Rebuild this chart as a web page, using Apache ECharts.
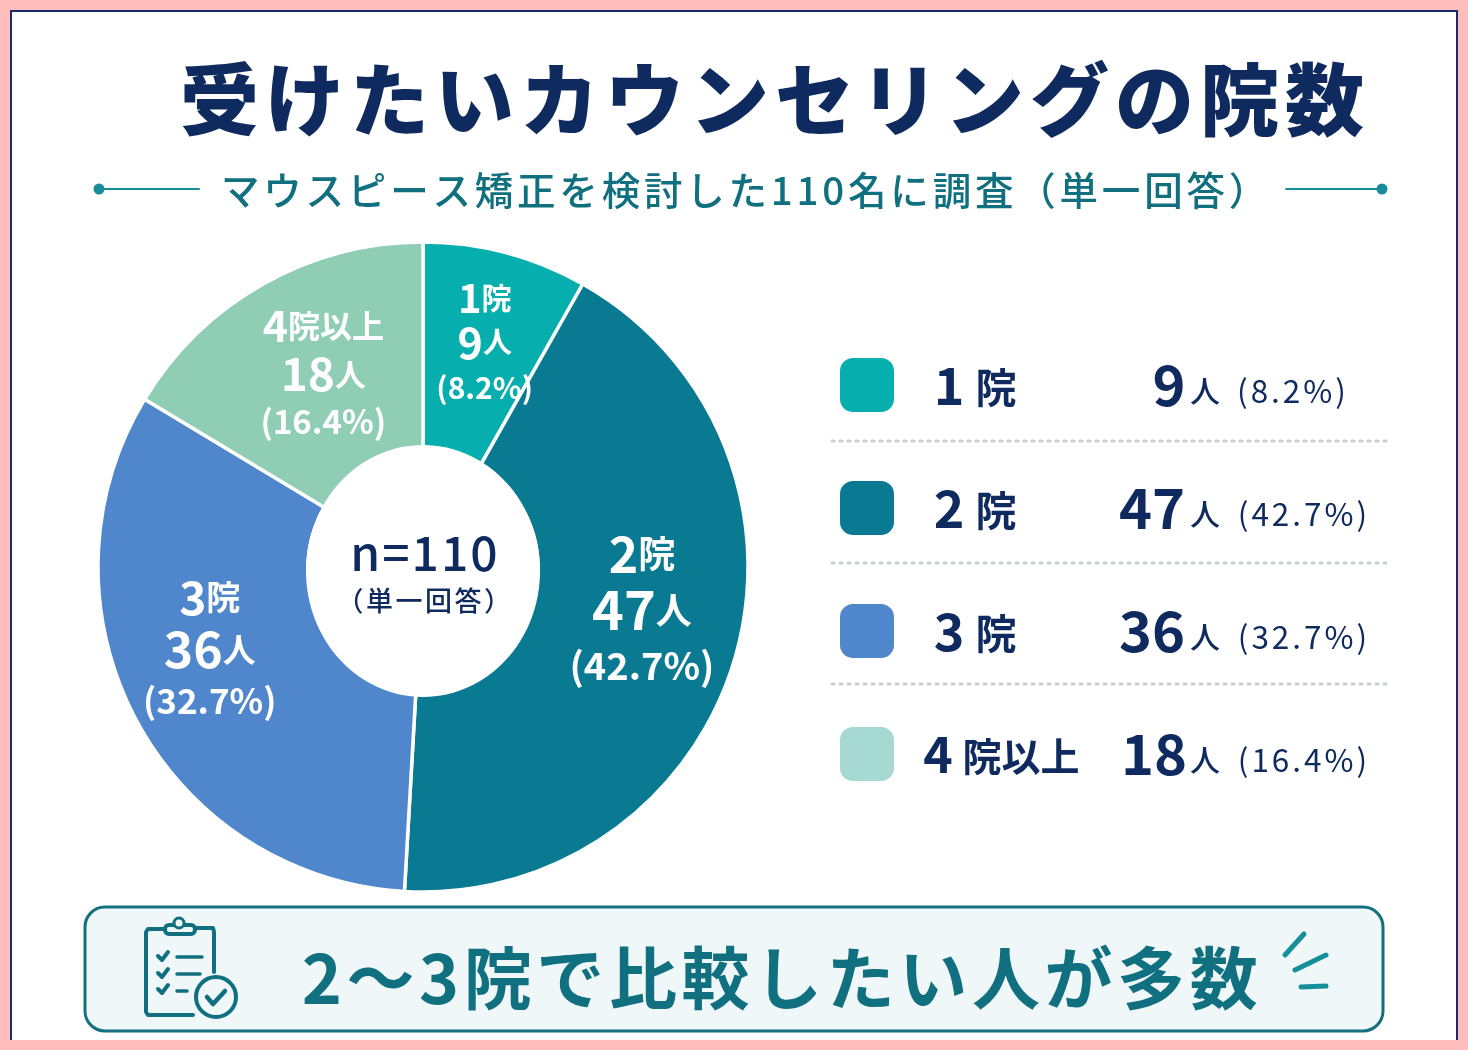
<!DOCTYPE html>
<html><head><meta charset="utf-8">
<style>html,body{margin:0;padding:0;background:#FFBDBD}#c{width:1468px;height:1050px}</style>
<script src="https://cdn.jsdelivr.net/npm/echarts@6/dist/echarts.min.js"></script>
</head><body><div id="c"></div>
<script>
const categories = ['1院','2院','3院','4院以上'];
const counts = [9,47,36,18];
const percents = ['8.2%','42.7%','32.7%','16.4%'];
const sliceColors = ['#06AEAE','#0A7A92','#4F86CC','#90CDB5'];
const legendColors = ['#06AEAE','#0A7A92','#4F86CC','#A6D9D1'];
const titleText = '受けたいカウンセリングの院数';
const subtitleText = 'マウスピース矯正を検討した110名に調査（単一回答）';
const centerMain = 'n=110';
const centerSub = '（単一回答）';
const calloutText = '2〜3院で比較したい人が多数';

const FONT = '"Noto Sans CJK JP","Noto Sans",sans-serif';
const NAVY = '#0F2A5E', TEAL = '#10707F';
const labelScale = [0.8,1,0.92,0.86];
const labelShift = [[5,-9],[5,-20],[-16,-22],[10,1]];

// letter spacing by font size, as the canvas text API offers it
const tracking = {'79px':'6px','38.5px':'3.8px','68px':'4.6px','48px':'2px','27px':'2.5px','31.5px':'3px'};
const baseFillText = CanvasRenderingContext2D.prototype.fillText;
CanvasRenderingContext2D.prototype.fillText = function(t,x,y,m){
  const hit = /([\d.]+px)/.exec(this.font);
  this.letterSpacing = (hit && tracking[hit[1]]) || '0px';
  return m === undefined ? baseFillText.call(this,t,x,y) : baseFillText.call(this,t,x,y,m);
};

function splitCat(s){ return [s[0], s.slice(1)]; }
function sliceRich(i){
  const k = labelScale[i], w = '#fff';
  const f = (size,weight)=>({fontFamily:FONT,fontSize:Math.round(size*k),fontWeight:weight||'bold',color:w,lineHeight:Math.round(56*k)});
  return {a:f(50),b:f(37),c:f(54),d:f(36),e:f(38,'bold')};
}
function sliceLabel(i){
  const [n,r] = splitCat(categories[i]);
  return `{a|${n}}{b|${r}}\n{c|${counts[i]}}{d|人}\n{e|(${percents[i]})}`;
}
const tok = (fontSize,fontWeight,width,left,top)=>({fontFamily:FONT,fontSize,fontWeight,color:NAVY,width,align:'center',lineHeight:54-(top||0),padding:[top||0,0,0,left||0]});
const legendRich = {
  n:tok(52,'bold',36,31),
  k:tok(41,'bold',58,0,4),
  n4:tok(50,'bold',36,20),
  k4:tok(39,'bold',130,0,4),
  v1:tok(56,'bold',34,127),
  v2:tok(56,'bold',68,93),
  v4:tok(56,'bold',64,36),
  u:tok(30,'500',38,0,12),
  p1:tok(31.5,'400',110,14,12),
  p2:tok(31.5,'400',132,14,12)
};
function txt(text,x,y,fontSize,fontWeight,fill,align){
  return {type:'text',silent:true,z:6,style:{text,x,y,fontFamily:FONT,fontSize,fontWeight,fill,align:align||'left',verticalAlign:'middle'}};
}
function ln(x1,y1,x2,y2,stroke,lineWidth,extra){
  return {type:'line',silent:true,shape:{x1,y1,x2,y2},style:Object.assign({stroke,lineWidth,lineCap:'round'},extra||{})};
}
function poly(points,stroke,lineWidth){
  return {type:'polyline',silent:true,shape:{points},style:{stroke,lineWidth,fill:null,lineCap:'round',lineJoin:'round'}};
}
const dots = {lineDash:[2,6],lineCap:'round'};
const graphics = [
  {type:'rect',silent:true,z:-10,shape:{x:11,y:11,width:1446,height:1040},style:{fill:'#FFFFFF',stroke:'#1B2A6B',lineWidth:2}},
  {type:'rect',silent:true,z:-9,shape:{x:0,y:1040,width:1468,height:10},style:{fill:'#FFBDBD'}},
  txt(titleText,180,100,79,'900',NAVY),
  ln(99,189,199,189,'#1A8C99',2), {type:'circle',silent:true,shape:{cx:99,cy:189,r:5.5},style:{fill:'#1A8C99'}},
  ln(1286,189,1382,189,'#1A8C99',2), {type:'circle',silent:true,shape:{cx:1382,cy:189,r:5.5},style:{fill:'#1A8C99'}},
  txt(subtitleText,746,190,38.5,'500',TEAL,'center'),
  {type:'ellipse',silent:true,z:5,shape:{cx:423,cy:571,rx:117,ry:126},style:{fill:'#fff'}},
  txt(centerMain,425,553,48,'500',NAVY,'center'),
  txt(centerSub,425,601,27,'500',NAVY,'center'),
  ln(832,441,1388,441,'#C9CED3',3,dots),
  ln(832,563,1388,563,'#C9CED3',3,dots),
  ln(832,684,1388,684,'#C9CED3',3,dots),
  {type:'rect',silent:true,z:-5,shape:{x:85,y:907,width:1298,height:124,r:20},style:{fill:'#EFF7F9',stroke:'#14707F',lineWidth:3}},
  txt(calloutText,782,978,68,'bold',TEAL,'center'),
  // clipboard icon
  poly([[190,928],[213,928],[214,932],[214,972]],TEAL,4),
  poly([[193,1015],[148,1015],[146,1012],[146,932],[148,929],[165,929]],TEAL,4),
  {type:'rect',silent:true,shape:{x:165,y:925,width:30,height:9,r:4},style:{fill:'#EFF7F9',stroke:TEAL,lineWidth:4}},
  {type:'circle',silent:true,shape:{cx:179,cy:923,r:5},style:{fill:'#EFF7F9',stroke:TEAL,lineWidth:3}},
  poly([[158,956],[162,960],[168,952]],TEAL,4), ln(177,957,202,957,TEAL,3.5),
  poly([[158,973],[162,977],[168,969]],TEAL,4), ln(177,974,200,974,TEAL,3.5),
  poly([[158,989],[162,993],[168,985]],TEAL,4), ln(177,991,187,991,TEAL,3.5),
  {type:'circle',silent:true,shape:{cx:216,cy:997,r:20},style:{fill:'#EFF7F9',stroke:TEAL,lineWidth:4}},
  poly([[207,997],[213,1004],[225,991]],TEAL,4.5),
  // burst
  ln(1285,955,1304,934,'#15909A',5), ln(1295,970,1326,955,'#15909A',5), ln(1301,987,1326,986,'#15909A',5)
];
const chart = echarts.init(document.getElementById('c'),null,{renderer:'canvas',width:1468,height:1050});
chart.setOption({
  animation:false,
  backgroundColor:'transparent',
  legend:{
    orient:'vertical',left:838,top:356,padding:0,itemWidth:56,itemHeight:56,itemGap:65,selectedMode:false,icon:'roundRect',
    data:categories.map((name,i)=>({name,itemStyle:{color:legendColors[i]}})),
    textStyle:{rich:legendRich,fontFamily:FONT},
    formatter:function(name){
      const i = categories.indexOf(name), [n,r] = splitCat(name), long = r.length>1;
      const c = String(counts[i]);
      const vt = long ? 'v4' : (c.length>1 ? 'v2' : 'v1');
      const pt = percents[i].length>4 ? 'p2' : 'p1';
      return `{${long?'n4':'n'}|${n}}{${long?'k4':'k'}|${r}}{${vt}|${c}}{u|人}{${pt}|(${percents[i]})}`;
    }
  },
  graphic:graphics,
  series:[{
    type:'pie',center:[423,567],radius:[115,325],startAngle:90,clockwise:true,
    emphasis:{disabled:true},
    data:categories.map((name,i)=>({
      name,value:counts[i],
      itemStyle:{color:sliceColors[i],borderColor:'#fff',borderWidth:3.5},
      label:{show:true,position:'inside',align:'center',formatter:sliceLabel(i),rich:sliceRich(i)}
    })),
    labelLine:{show:false},
    labelLayout:function(p){ const s = labelShift[p.dataIndex]; return {dx:s[0],dy:s[1]}; }
  }]
});
</script></body></html>
